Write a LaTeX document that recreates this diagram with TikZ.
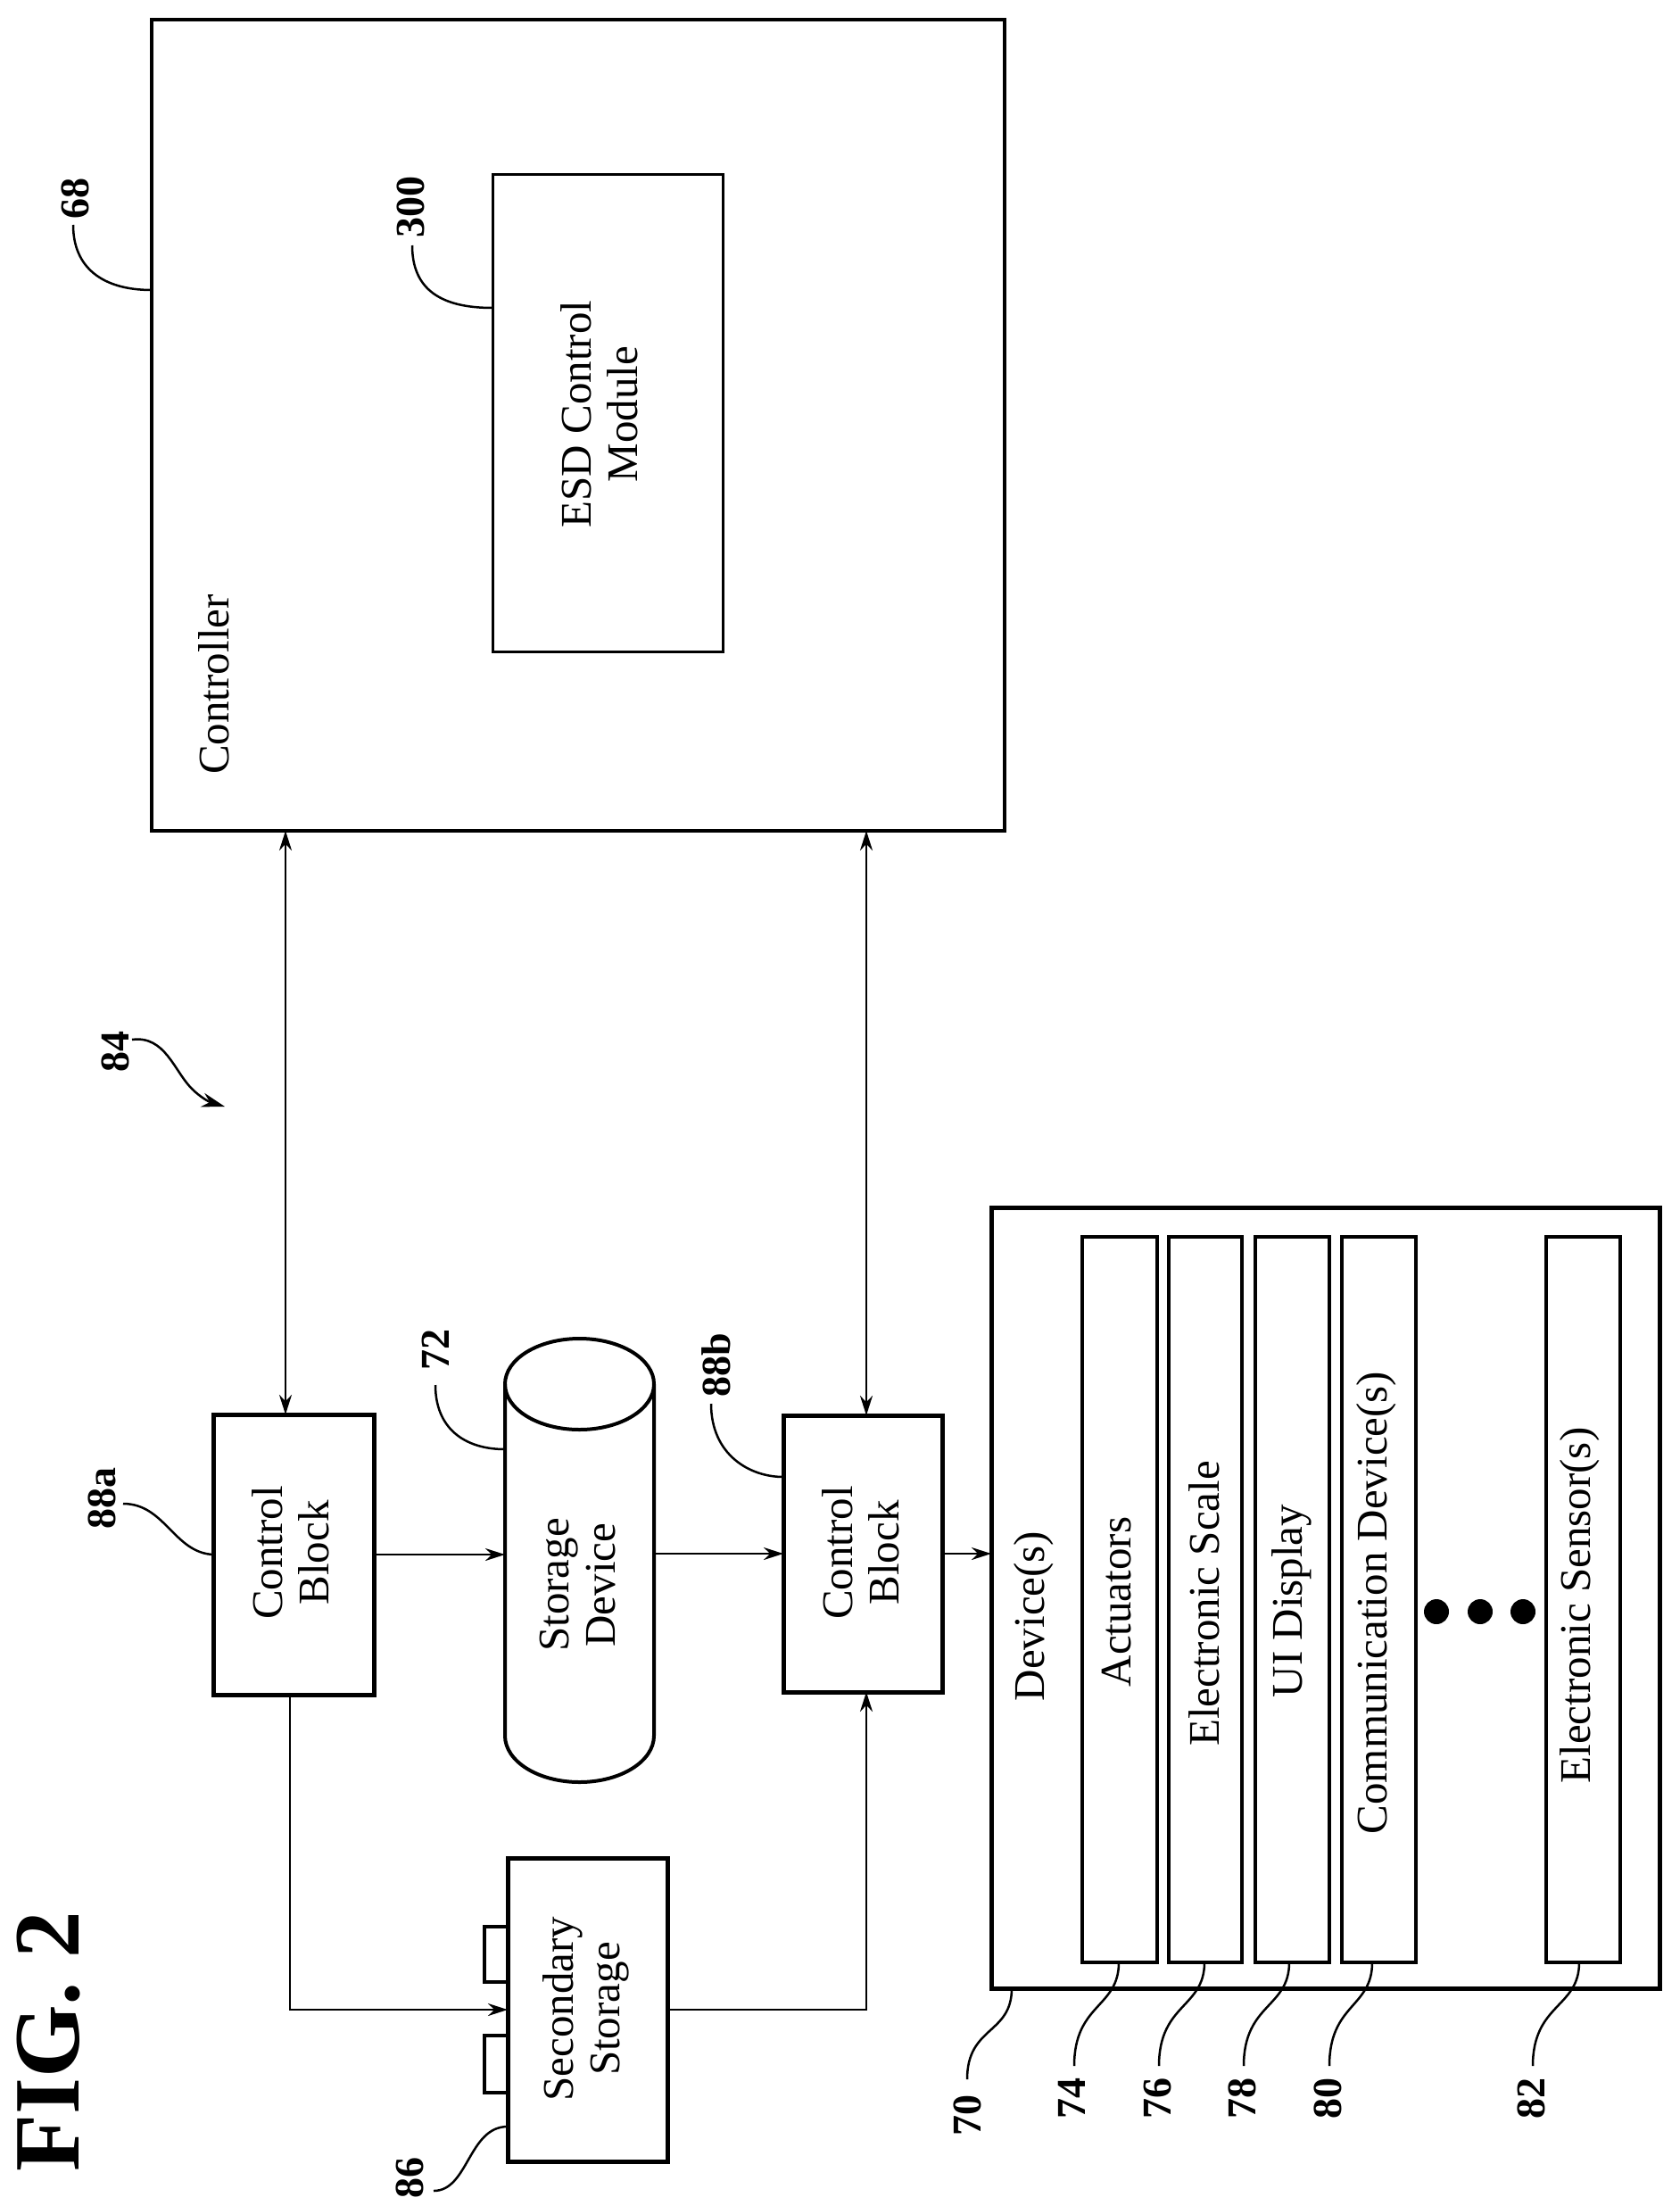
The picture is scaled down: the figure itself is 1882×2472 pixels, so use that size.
\documentclass[tikz,border=0pt]{standalone}
\usepackage{fontspec}
\setmainfont{Liberation Serif}
\usetikzlibrary{arrows.meta}
\begin{document}
\begin{tikzpicture}[x=1pt,y=-1pt,
 box/.style={draw,line width=5pt,inner sep=0,outer sep=0},
 bar/.style={draw,line width=3.5pt,inner sep=0,outer sep=0,minimum height=813pt},
 txt/.style={rotate=90,font=\fontsize{49}{52}\selectfont,align=center,inner sep=0},
 lbl/.style={rotate=90,font=\fontsize{46}{50}\selectfont\bfseries,inner sep=0},
 ld/.style={line width=2.5pt},
 con/.style={line width=2.5pt},
 tip/.style={-{Stealth[length=22pt,width=14pt]}},
 dtip/.style={{Stealth[length=22pt,width=14pt]}-{Stealth[length=22pt,width=14pt]}}]
\useasboundingbox (0,0) rectangle (1882,2472);
% boxes
\node[box,line width=4pt,minimum width=956pt,minimum height=909pt] (ctrl) at (648,476.5) {};
\node[box,line width=3pt,minimum width=258pt,minimum height=534pt] (esd) at (681,463) {};
\node[box,minimum width=180pt,minimum height=314pt] (a88) at (329,1742) {};
\node[box,minimum width=178pt,minimum height=310pt] (b88) at (967,1741) {};
\node[box,minimum width=179pt,minimum height=340pt] (sec) at (658.5,2252) {};
\node[box,line width=4pt,minimum width=26pt,minimum height=62pt] (tab1) at (556,2190) {};
\node[box,line width=4pt,minimum width=26pt,minimum height=64pt] (tab2) at (556,2313) {};
\node[box,minimum width=749pt,minimum height=875pt] (dev) at (1485.5,1790.5) {};
\node[bar,minimum width=84pt] (act) at (1255,1792.5) {};
\node[bar,minimum width=82pt] (scl) at (1351,1792.5) {};
\node[bar,minimum width=83pt] (ui) at (1448.5,1792.5) {};
\node[bar,minimum width=83pt] (comm) at (1545.5,1792.5) {};
\node[bar,minimum width=83pt] (sens) at (1774.5,1792.5) {};
% cylinder
\node[inner sep=0,outer sep=0,minimum width=167pt,minimum height=497pt] (cyl) at (649.5,1748) {};
\draw[line width=4pt] (566,1551) -- (566,1945) arc[start angle=180,end angle=360,x radius=83.5,y radius=-52] -- (733,1551);
\draw[line width=4pt] (649.5,1551) ellipse[x radius=83.5,y radius=51];
% dots
\fill (1610,1806) circle[radius=14];
\fill (1659,1806) circle[radius=14];
\fill (1707,1806) circle[radius=14];
% texts
\node[txt] (tctrl) at (240,767) {Controller};
\node[txt] (tesd) at (672,464) {ESD Control\\Module};
\node[txt] (ta88) at (326,1740) {Control\\Block};
\node[txt] (tb88) at (965,1740) {Control\\Block};
\node[txt] (tcyl) at (648,1776) {Storage\\Device};
\node[txt] (tsec) at (657,2251) {Secondary\\Storage};
\node[txt] (tdev) at (1159,1811) {Device(s)};
\node[txt] (tact) at (1252,1795) {Actuators};
\node[txt] (tscl) at (1350,1797) {Electronic Scale};
\node[txt] (tui) at (1448,1794) {UI Display};
\node[txt] (tcomm) at (1543,1796) {Communication Device(s)};
\node[txt] (tsens) at (1771,1799) {Electronic Sensor(s)};
\node[rotate=90,font=\fontsize{105}{110}\selectfont\bfseries,inner sep=0] (fig) at (54,2288) {FIG.\ 2};
% connectors
\draw[con,dtip] ([xshift=-9pt]a88.north) -- ([xshift=-9pt]a88.north|-ctrl.south);
\draw[con,dtip] ([xshift=4pt]b88.north) -- ([xshift=4pt]b88.north|-ctrl.south);
\draw[con,tip] (a88.east) -- (cyl.west|-a88.east);
\draw[con,tip] (cyl.east|-b88.west) -- (b88.west);
\draw[con,tip] (b88.east) -- (dev.west|-b88.east);
\draw[con,tip] ([xshift=-4pt]a88.south) |- (sec.west);
\draw[con,tip] (sec.east) -| ([xshift=4pt]b88.south);
% labels
\node[lbl] (l68) at (84,223) {68};
\draw[ld] (82,252) .. controls (82,300) and (115,325) .. (ctrl.west|-0,325);
\node[lbl] (l300) at (460,232) {300};
\draw[ld] (462,275) .. controls (462,325) and (495,345) .. (esd.west|-0,345);
\node[lbl] (l84) at (129,1178) {84};
\draw[ld,-{Stealth[length=26pt,width=16pt]}] (148,1165) .. controls (185,1160) and (195,1200) .. (215,1220) .. controls (225,1230) and (235,1235) .. (252,1240);
\node[lbl] (l88a) at (114,1679) {88a};
\draw[ld] (138,1685) .. controls (185,1685) and (195,1740) .. (a88.west|-0,1742);
\node[lbl] (l72) at (488,1512) {72};
\draw[ld] (488,1552) .. controls (488,1600) and (520,1624) .. (cyl.west|-0,1624);
\node[lbl] (l88b) at (803,1530) {88b};
\draw[ld] (797,1573) .. controls (797,1630) and (840,1655) .. (b88.west|-0,1655);
\node[lbl] (l86) at (459,2440) {86};
\draw[ld] (486,2455) .. controls (525,2455) and (525,2383) .. (sec.west|-0,2383);
\node[lbl] (l70) at (1084,2370) {70};
\draw[ld] (1084,2330) .. controls (1084,2270) and (1134,2280) .. (1134,2228);
\node[lbl] (l74) at (1201,2351) {74};
\draw[ld] (1204,2315) .. controls (1204,2245) and (1254,2250) .. (act.south-|1254,0);
\node[lbl] (l76) at (1297,2351) {76};
\draw[ld] (1299,2315) .. controls (1299,2245) and (1350,2250) .. (scl.south-|1350,0);
\node[lbl] (l78) at (1392,2351) {78};
\draw[ld] (1394,2315) .. controls (1394,2245) and (1445,2250) .. (ui.south-|1445,0);
\node[lbl] (l80) at (1488,2351) {80};
\draw[ld] (1490,2315) .. controls (1490,2245) and (1538,2250) .. (comm.south-|1538,0);
\node[lbl] (l82) at (1716,2351) {82};
\draw[ld] (1718,2315) .. controls (1718,2245) and (1770,2250) .. (sens.south-|1770,0);
\end{tikzpicture}
\end{document}
